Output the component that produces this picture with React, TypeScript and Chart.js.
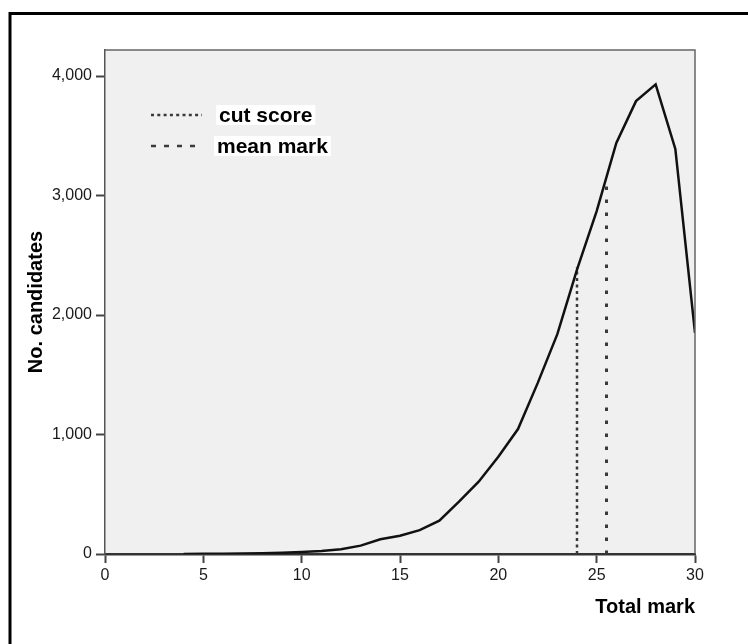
import React, { useEffect, useRef } from "react";
import { Chart, registerables } from "chart.js";

Chart.register(...registerables);

const marks = [4, 5, 6, 7, 8, 9, 10, 11, 12, 13, 14, 15, 16, 17, 18, 19, 20, 21, 22, 23, 24, 25, 26, 27, 28, 29, 30];
const candidates = [1, 2, 3, 4, 6, 10, 17, 25, 39, 70, 123, 153, 200, 279, 438, 605, 814, 1046, 1430, 1840, 2380, 2870, 3440, 3790, 3930, 3390, 1850];

const cutScore = 24;
const cutScoreHeight = 2400;
const meanMark = 25.5;
const meanMarkHeight = 3140;

const xTicks = [0, 5, 10, 15, 20, 25, 30];
const yTicks = [0, 1000, 2000, 3000, 4000];

const seriesLabels = ["No. candidates", "cut score", "mean mark"];

const FONT = "'Liberation Sans', Arial, sans-serif";

const decorPlugin = {
  id: "decor",
  beforeDraw(chart: any) {
    const { ctx, chartArea } = chart;
    ctx.save();
    ctx.fillStyle = "#ffffff";
    ctx.fillRect(0, 0, chart.width, chart.height);
    ctx.fillStyle = "#f0f0f0";
    ctx.fillRect(chartArea.left, chartArea.top, chartArea.right - chartArea.left, chartArea.bottom - chartArea.top);
    ctx.strokeStyle = "#000000";
    ctx.lineWidth = 3;
    ctx.strokeRect(10, 13.5, chart.width + 20, chart.height + 20);
    ctx.restore();
  },
  afterDraw(chart: any) {
    const { ctx, chartArea } = chart;
    ctx.save();
    ctx.strokeStyle = "#666666";
    ctx.lineWidth = 1.5;
    ctx.beginPath();
    ctx.moveTo(chartArea.left, chartArea.top);
    ctx.lineTo(chartArea.right, chartArea.top);
    ctx.lineTo(chartArea.right, chartArea.bottom);
    ctx.stroke();

    const items = [
      { ds: chart.data.datasets[1], dash: [3, 3.3], x0: 151, x1: 202, y: 115, tx: 219 },
      { ds: chart.data.datasets[2], dash: [5, 8], x0: 151, x1: 197, y: 146, tx: 217 },
    ];
    ctx.font = `bold 21px ${FONT}`;
    ctx.textBaseline = "middle";
    ctx.textAlign = "left";
    for (const it of items) {
      ctx.strokeStyle = it.ds.borderColor;
      ctx.lineWidth = 2.5;
      ctx.setLineDash(it.dash);
      ctx.beginPath();
      ctx.moveTo(it.x0, it.y);
      ctx.lineTo(it.x1, it.y);
      ctx.stroke();
      ctx.setLineDash([]);
      const w = ctx.measureText(it.ds.label).width;
      ctx.fillStyle = "#ffffff";
      ctx.fillRect(it.tx - 3, it.y - 10, w + 6, 20);
      ctx.fillStyle = "#000000";
      ctx.fillText(it.ds.label, it.tx, it.y + 1);
    }
    ctx.restore();
  },
};

export default function App() {
  const ref = useRef<HTMLCanvasElement | null>(null);

  useEffect(() => {
    if (!ref.current) return;
    const mainData = marks.map((m, i) => ({ x: m, y: candidates[i] }));
    const chart = new Chart(ref.current, {
      type: "line",
      data: {
        datasets: [
          {
            label: seriesLabels[0],
            data: mainData,
            borderColor: "#111111",
            borderWidth: 2.5,
            pointRadius: 0,
            tension: 0,
            fill: false,
            order: 0,
          },
          {
            label: seriesLabels[1],
            data: [
              { x: cutScore, y: 0 },
              { x: cutScore, y: cutScoreHeight },
            ],
            borderColor: "#3a3a3a",
            borderWidth: 2.5,
            borderDash: [3, 3.5],
            pointRadius: 0,
            fill: false,
            order: 1,
          },
          {
            label: seriesLabels[2],
            data: [
              { x: meanMark, y: 0 },
              { x: meanMark, y: meanMarkHeight },
            ],
            borderColor: "#3a3a3a",
            borderWidth: 3,
            borderDash: [3.5, 9.5],
            pointRadius: 0,
            fill: false,
            order: 1,
          },
        ],
      },
      options: {
        responsive: false,
        animation: false,
        layout: { padding: { top: 50, right: 53, left: 0, bottom: 0 } },
        plugins: {
          legend: { display: false },
          tooltip: { enabled: false },
        },
        scales: {
          x: {
            type: "linear",
            min: 0,
            max: 30,
            afterFit: (s: any) => {
              s.height = 90;
            },
            afterBuildTicks: (s: any) => {
              s.ticks = xTicks.map((v) => ({ value: v }));
            },
            ticks: {
              font: { family: FONT, size: 16 },
              color: "#1a1a1a",
              padding: 3,
              maxRotation: 0,
            },
            grid: {
              display: true,
              drawOnChartArea: false,
              drawTicks: true,
              tickLength: 9,
              tickColor: "#444444",
              tickWidth: 2,
            },
            border: { display: true, color: "#333333", width: 2.5 },
            title: {
              display: true,
              text: "Total mark",
              align: "end",
              color: "#000000",
              font: { family: FONT, size: 20, weight: "bold" },
              padding: { top: 0, bottom: 25 },
            },
          },
          y: {
            type: "linear",
            min: 0,
            max: 4218,
            afterFit: (s: any) => {
              s.width = 105;
            },
            afterBuildTicks: (s: any) => {
              s.ticks = yTicks.map((v) => ({ value: v }));
            },
            ticks: {
              font: { family: FONT, size: 16 },
              color: "#1a1a1a",
              padding: 4,
              callback: (v: any) => Number(v).toLocaleString("en-US"),
            },
            grid: {
              display: true,
              drawOnChartArea: false,
              drawTicks: true,
              tickLength: 9,
              tickColor: "#444444",
              tickWidth: 2,
            },
            border: { display: true, color: "#555555", width: 1.5 },
            title: {
              display: true,
              text: "No. candidates",
              align: "center",
              color: "#000000",
              font: { family: FONT, size: 20, weight: "bold" },
              padding: { top: 24, bottom: 0 },
            },
          },
        },
      },
      plugins: [decorPlugin],
    });
    return () => chart.destroy();
  }, []);

  return (
    <div style={{ position: "absolute", left: 0, top: 0, width: 748, height: 644 }}>
      <canvas ref={ref} width={748} height={644} style={{ width: 748, height: 644, display: "block" }} />
    </div>
  );
}
